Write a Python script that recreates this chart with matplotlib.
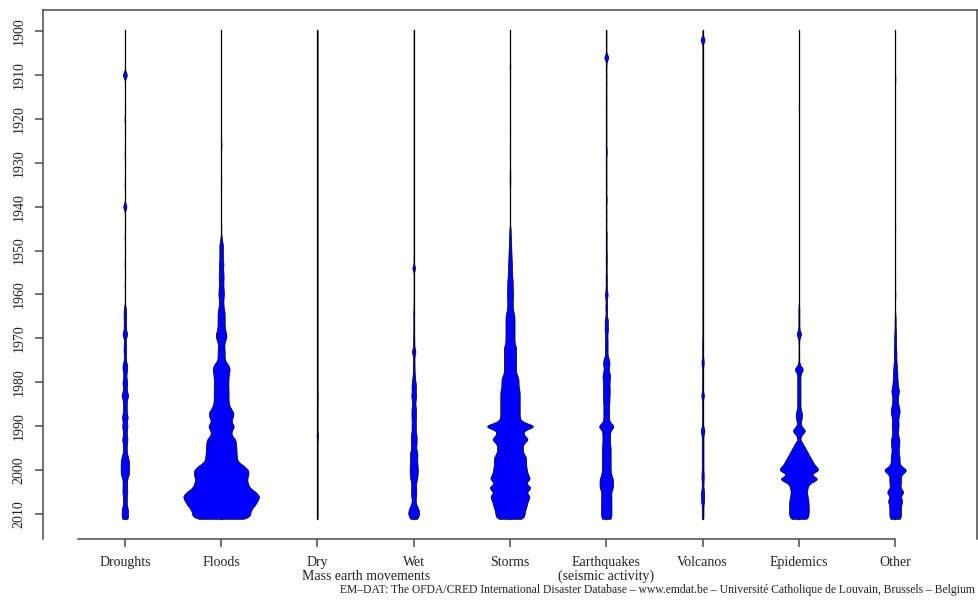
import numpy as np
import matplotlib
matplotlib.use("Agg")
import matplotlib.pyplot as plt

plt.rcParams["font.family"] = ["Liberation Serif", "DejaVu Serif"]

# ===== disaster counts per year (1900-2011) =====
years = np.arange(1900, 2012)

droughts = [
    0, 0, 0, 0, 0, 0, 0, 0, 0, 0,
    18, 0, 0, 0, 0, 0, 0, 0, 0, 0,
    3, 0, 0, 0, 0, 0, 0, 0, 2, 0,
    0, 0, 0, 0, 0, 2, 0, 0, 0, 0,
    15, 0, 0, 0, 0, 0, 0, 2, 0, 0,
    0, 0, 0, 2, 0, 0, 0, 0, 2, 0,
    0, 0, 0, 6, 8, 8, 6, 8, 6, 18,
    6, 6, 8, 8, 6, 6, 15, 15, 10, 10,
    16, 12, 12, 24, 12, 12, 12, 12, 20, 12,
    18, 12, 12, 18, 12, 12, 12, 20, 26, 26,
    26, 26, 14, 14, 14, 16, 12, 12, 12, 20,
    20, 20,
]
floods = [
    0, 0, 0, 0, 0, 0, 0, 0, 0, 0,
    0, 0, 0, 0, 0, 0, 0, 0, 0, 0,
    0, 0, 0, 0, 0, 0, 3, 0, 0, 0,
    0, 0, 0, 0, 1, 0, 0, 0, 0, 0,
    0, 0, 0, 0, 0, 2, 0, 4, 8, 12,
    10, 12, 10, 16, 12, 14, 16, 14, 14, 16,
    18, 14, 14, 16, 22, 22, 22, 22, 24, 34,
    32, 20, 20, 22, 22, 22, 45, 55, 48, 46,
    45, 45, 46, 46, 46, 48, 60, 80, 72, 60,
    85, 65, 62, 90, 92, 95, 95, 98, 100, 140,
    170, 170, 160, 165, 175, 215, 240, 225, 210, 185,
    180, 175,
]
dry_mass = [
    0, 0, 0, 0, 0, 0, 0, 0, 0, 0,
    0, 0, 0, 1, 0, 0, 0, 0, 0, 0,
    0, 0, 0, 0, 0, 0, 0, 0, 0, 0,
    0, 0, 0, 0, 0, 0, 0, 1, 0, 0,
    0, 0, 0, 0, 0, 0, 0, 0, 0, 0,
    0, 0, 0, 0, 1, 0, 0, 0, 0, 0,
    0, 0, 0, 0, 0, 0, 0, 0, 0, 0,
    0, 0, 0, 0, 0, 0, 0, 0, 1, 0,
    0, 0, 2, 2, 2, 1, 0, 0, 0, 0,
    0, 0, 6, 3, 0, 0, 0, 0, 0, 1,
    0, 0, 0, 0, 0, 1, 0, 0, 0, 0,
    0, 0,
]
wet_mass = [
    0, 0, 0, 0, 0, 0, 0, 0, 0, 0,
    0, 0, 0, 0, 0, 1, 0, 0, 0, 0,
    0, 0, 0, 0, 0, 0, 0, 0, 0, 0,
    0, 0, 0, 0, 1, 0, 0, 0, 0, 0,
    0, 0, 0, 0, 0, 0, 0, 0, 1, 0,
    0, 0, 2, 0, 12, 0, 0, 2, 0, 0,
    2, 0, 2, 0, 4, 2, 2, 3, 2, 3,
    3, 4, 3, 14, 4, 4, 5, 5, 6, 8,
    12, 14, 12, 16, 12, 10, 14, 14, 14, 12,
    14, 12, 18, 18, 18, 14, 24, 22, 22, 24,
    26, 24, 22, 14, 16, 16, 16, 10, 18, 32,
    36, 25,
]
storms = [
    0, 0, 0, 0, 0, 0, 0, 0, 3, 0,
    0, 2, 0, 0, 0, 0, 0, 0, 0, 0,
    0, 0, 2, 0, 0, 0, 2, 0, 2, 0,
    0, 0, 2, 2, 2, 2, 0, 0, 0, 0,
    0, 0, 0, 0, 0, 4, 4, 6, 6, 8,
    8, 10, 10, 12, 12, 14, 14, 17, 17, 17,
    20, 17, 17, 17, 22, 28, 28, 28, 28, 28,
    28, 28, 38, 38, 38, 38, 38, 38, 38, 53,
    53, 53, 60, 60, 60, 60, 60, 60, 60, 70,
    175, 78, 85, 120, 80, 80, 80, 100, 100, 100,
    105, 110, 130, 90, 140, 95, 128, 110, 105, 95,
    90, 88,
]
earthquakes = [
    0, 0, 0, 0, 0, 0, 18, 0, 2, 0,
    2, 0, 2, 0, 0, 2, 0, 2, 0, 0,
    2, 0, 0, 2, 0, 2, 0, 3, 3, 0,
    2, 0, 0, 2, 0, 2, 0, 0, 3, 2,
    0, 2, 0, 2, 0, 0, 3, 2, 2, 2,
    2, 3, 3, 3, 2, 2, 4, 3, 3, 4,
    10, 4, 4, 6, 4, 4, 12, 8, 12, 6,
    8, 8, 8, 8, 8, 20, 20, 14, 22, 24,
    20, 20, 22, 20, 20, 18, 18, 18, 18, 18,
    55, 24, 24, 24, 24, 27, 27, 27, 27, 27,
    27, 30, 42, 42, 42, 30, 32, 32, 32, 32,
    32, 32,
]
volcanos = [
    0, 0, 18, 0, 0, 0, 0, 0, 0, 0,
    0, 0, 1, 0, 0, 0, 0, 0, 0, 0,
    0, 0, 0, 0, 0, 0, 0, 0, 0, 1,
    0, 0, 0, 0, 0, 0, 0, 0, 0, 0,
    0, 0, 0, 0, 0, 0, 0, 0, 0, 0,
    0, 1, 0, 0, 0, 0, 0, 0, 0, 0,
    0, 0, 0, 1, 0, 2, 0, 0, 1, 0,
    2, 2, 3, 2, 2, 7, 7, 2, 2, 3,
    3, 3, 3, 10, 3, 3, 3, 3, 3, 3,
    3, 15, 5, 5, 5, 5, 5, 5, 5, 5,
    5, 7, 7, 5, 5, 10, 10, 10, 5, 5,
    5, 5,
]
epidemics = [
    0, 0, 0, 0, 0, 0, 0, 0, 0, 0,
    0, 0, 0, 0, 0, 0, 0, 0, 1, 0,
    0, 0, 0, 0, 0, 0, 0, 0, 0, 0,
    0, 0, 0, 0, 0, 0, 0, 0, 0, 0,
    0, 0, 0, 0, 0, 0, 0, 0, 0, 0,
    0, 0, 0, 0, 0, 0, 0, 0, 0, 0,
    0, 0, 0, 3, 3, 3, 3, 3, 3, 18,
    3, 2, 2, 2, 2, 2, 4, 32, 10, 10,
    10, 10, 10, 10, 10, 10, 10, 20, 20, 12,
    12, 48, 15, 6, 25, 40, 55, 70, 85, 100,
    135, 60, 135, 63, 54, 50, 54, 60, 60, 62,
    60, 58,
]
other = [
    0, 0, 0, 0, 0, 0, 0, 0, 0, 0,
    0, 2, 0, 0, 0, 0, 0, 0, 0, 0,
    0, 0, 0, 0, 0, 0, 0, 0, 0, 0,
    0, 0, 0, 0, 0, 0, 0, 0, 0, 0,
    0, 0, 0, 0, 0, 1, 0, 0, 0, 0,
    0, 0, 0, 0, 0, 0, 0, 1, 0, 0,
    2, 0, 0, 0, 0, 3, 3, 3, 4, 5,
    6, 6, 6, 8, 8, 8, 10, 12, 14, 14,
    16, 18, 26, 18, 18, 18, 28, 28, 20, 20,
    22, 18, 18, 27, 27, 22, 22, 28, 27, 30,
    82, 36, 36, 36, 30, 58, 30, 48, 36, 36,
    36, 36,
]

categories = ["Droughts", "Floods", "Dry", "Wet", "Storms",
              "Earthquakes\n(seismic activity)", "Volcanos", "Epidemics", "Other"]
series = [droughts, floods, dry_mass, wet_mass, storms,
          earthquakes, volcanos, epidemics, other]

# ===== bean plot (gaussian kernel over the yearly counts) =====
bandwidth = 0.6           # years
width_per_event = 0.00168  # half-width in x units per event
t = np.linspace(1899.8, 2011.1, 3000)
kern_norm = bandwidth * np.sqrt(2 * np.pi)

fig = plt.figure(figsize=(9.79, 6.03), dpi=100)
ax = fig.add_axes([43 / 979, 1 - 539 / 603, (977 - 43) / 979, (539 - 10) / 603])

for i, counts in enumerate(series):
    pos = i + 1
    counts = np.asarray(counts, dtype=float)
    dens = (counts[None, :] * np.exp(-0.5 * ((t[:, None] - years[None, :]) / bandwidth) ** 2)).sum(axis=1)
    half = dens / kern_norm * width_per_event
    ax.plot([pos, pos], [t[0], t[-1]], color="black", lw=0.9, zorder=2)
    ax.fill_betweenx(t, pos - half, pos + half, facecolor="#0000FF",
                     edgecolor="black", linewidth=0.5, zorder=3)

ax.set_xlim(0.15, 9.85)
ax.set_ylim(2015.7, 1895.2)

# axes styling
axis_col = "#4a4a4a"
for side in ["top", "left", "right", "bottom"]:
    ax.spines[side].set_color(axis_col)
    ax.spines[side].set_linewidth(1.1)
ax.spines["bottom"].set_bounds(0.51, 9)

ax.set_yticks(np.arange(1900, 2011, 10))
ax.set_yticklabels([str(y) for y in range(1900, 2011, 10)], rotation=90, va="center")
ax.set_xticks(np.arange(1, 10))
ax.set_xticklabels(categories, linespacing=1.05)
ax.tick_params(axis="both", colors=axis_col, labelcolor="#222222", labelsize=10,
               length=5.5, width=1.1)
ax.tick_params(axis="y", pad=7)
ax.tick_params(axis="x", pad=7)

ax.annotate("Mass earth movements", xy=(3.5, 0), xycoords=("data", "axes fraction"),
            xytext=(0, -26.8), textcoords="offset points", ha="center", va="center",
            fontsize=10, color="#222222")

fig.text(975 / 979, 1 - 590 / 603,
         "EM\u2013DAT: The OFDA/CRED International Disaster Database \u2013 www.emdat.be \u2013 "
         "Universit\u00e9 Catholique de Louvain, Brussels \u2013 Belgium",
         ha="right", va="center", fontsize=8.4, color="#222222")

fig.savefig("out.png", dpi=100)
plt.close(fig)
